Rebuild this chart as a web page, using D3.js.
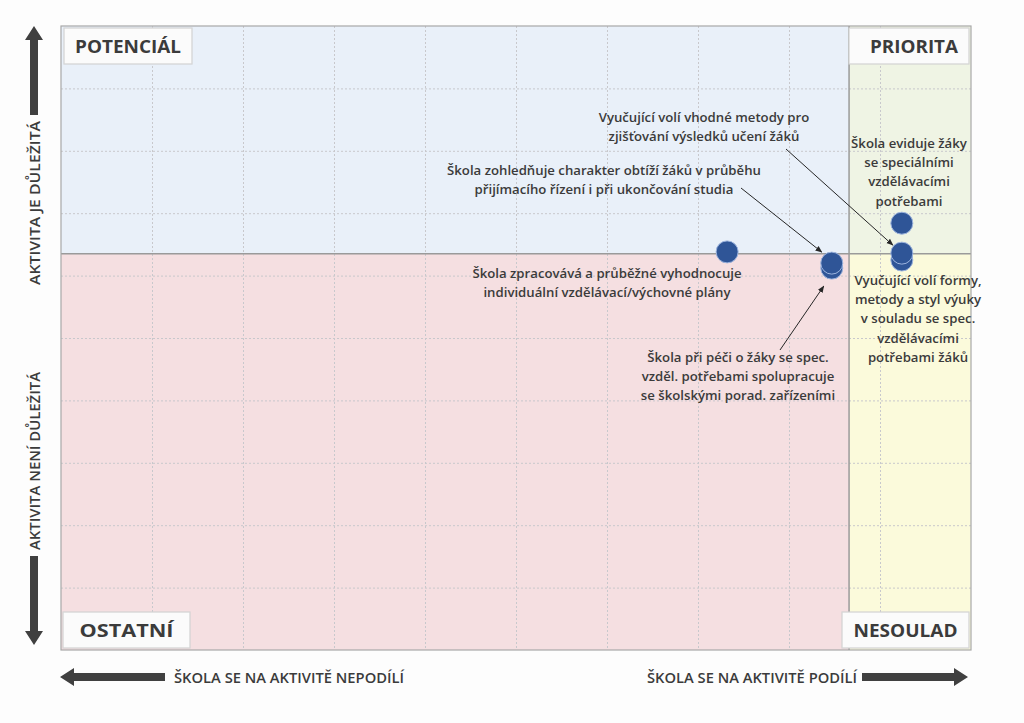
<!DOCTYPE html>
<html>
<head>
<meta charset="utf-8">
<script src="https://cdn.jsdelivr.net/npm/d3@7"></script>
<style>
  html, body { margin: 0; padding: 0; background: #fdfdfd; }
  svg { display: block; }
  text { font-family: "Open Sans", "DejaVu Sans", sans-serif; fill: #3b3b3b; }
</style>
</head>
<body>
<script>
// values (0-100 on both axes)
var activities = [
    "Škola zpracovává a průběžné vyhodnocuje individuální vzdělávací/výchovné plány",
    "Škola zohledňuje charakter obtíží žáků v průběhu přijímacího řízení i při ukončování studia",
    "Škola při péči o žáky se spec. vzděl. potřebami spolupracuje se školskými porad. zařízeními",
    "Škola eviduje žáky se speciálními vzdělávacími potřebami",
    "Vyučující volí vhodné metody pro zjišťování výsledků učení žáků",
    "Vyučující volí formy, metody a styl výuky v souladu se spec. vzdělávacími potřebami žáků"
];
var participation = [73.2, 84.7, 84.7, 92.4, 92.4, 92.4];
var importance = [63.8, 62.0, 61.2, 68.4, 63.6, 62.5];

var xSplit = 86.6;
var ySplit = 63.5;

var quadrantNames = ["POTENCIÁL", "PRIORITA", "OSTATNÍ", "NESOULAD"];
var axisTexts = ["AKTIVITA JE DŮLEŽITÁ", "AKTIVITA NENÍ DŮLEŽITÁ", "ŠKOLA SE NA AKTIVITĚ NEPODÍLÍ", "ŠKOLA SE NA AKTIVITĚ PODÍLÍ"];

var width = 1024;
var height = 723;
var plot = {left: 61, right: 971, top: 26, bottom: 650};

var svg = d3.select("body").append("svg")
    .attr("width", width)
    .attr("height", height);

var x = d3.scaleLinear().domain([0, 100]).range([plot.left, plot.right]);
var y = d3.scaleLinear().domain([0, 100]).range([plot.bottom, plot.top]);

// quadrant backgrounds
var quads = [
    {x0: 0, x1: xSplit, y0: ySplit, y1: 100, fill: "#e9f0f9"},
    {x0: xSplit, x1: 100, y0: ySplit, y1: 100, fill: "#eff4e4"},
    {x0: 0, x1: xSplit, y0: 0, y1: ySplit, fill: "#f5dfe1"},
    {x0: xSplit, x1: 100, y0: 0, y1: ySplit, fill: "#fbfadb"}
];
svg.selectAll("rect.quad").data(quads).enter().append("rect")
    .attr("class", "quad")
    .attr("x", function(d){ return x(d.x0); })
    .attr("y", function(d){ return y(d.y1); })
    .attr("width", function(d){ return x(d.x1) - x(d.x0); })
    .attr("height", function(d){ return y(d.y0) - y(d.y1); })
    .attr("fill", function(d){ return d.fill; });

// grid
var grid = svg.append("g");
grid.selectAll("line.v").data(x.ticks(10).slice(1, -1)).enter().append("line")
    .attr("x1", function(d){ return x(d) + 0.5; })
    .attr("x2", function(d){ return x(d) + 0.5; })
    .attr("y1", plot.top).attr("y2", plot.bottom)
    .attr("stroke", "#c8c8cc").attr("stroke-width", 1).attr("stroke-dasharray", "2,2");
grid.selectAll("line.h").data(y.ticks(10).slice(1, -1)).enter().append("line")
    .attr("y1", function(d){ return y(d) + 0.5; })
    .attr("y2", function(d){ return y(d) + 0.5; })
    .attr("x1", plot.left).attr("x2", plot.right)
    .attr("stroke", "#c8c8cc").attr("stroke-width", 1).attr("stroke-dasharray", "2,2");

// split lines
svg.append("line")
    .attr("x1", x(xSplit)).attr("x2", x(xSplit))
    .attr("y1", plot.top).attr("y2", plot.bottom)
    .attr("stroke", "#9a9a9a").attr("stroke-width", 1.5);
svg.append("line")
    .attr("x1", plot.left).attr("x2", plot.right)
    .attr("y1", y(ySplit)).attr("y2", y(ySplit))
    .attr("stroke", "#9a9a9a").attr("stroke-width", 1.5);

// frame
svg.append("rect")
    .attr("x", plot.left).attr("y", plot.top)
    .attr("width", plot.right - plot.left).attr("height", plot.bottom - plot.top)
    .attr("fill", "none").attr("stroke", "#a8a8a8").attr("stroke-width", 1.2);

// quadrant label boxes
var qBoxes = [
    {x: 64, y: 28, w: 128, h: 36},
    {x: 849, y: 28, w: 120, h: 36},
    {x: 63, y: 612, w: 127, h: 36},
    {x: 842, y: 612, w: 127, h: 36}
];
qBoxes.forEach(function(b, i){
    svg.append("rect")
        .attr("x", b.x).attr("y", b.y).attr("width", b.w).attr("height", b.h)
        .attr("fill", "#fbfbfb").attr("stroke", "#d3d3d3").attr("stroke-width", 1.2);
    svg.append("text")
        .attr("x", b.x + b.w / 2 + (i == 1 ? 5 : 0)).attr("y", b.y + 25)
        .attr("text-anchor", "middle")
        .attr("font-size", 18).attr("font-weight", 700)
        .attr("textLength", i == 0 ? 106 : (i == 1 ? 88 : (i == 2 ? 94 : 104)))
        .attr("lengthAdjust", "spacingAndGlyphs")
        .text(quadrantNames[i]);
});

// annotation arrows (from text to point)
svg.append("defs").append("marker")
    .attr("id", "head")
    .attr("viewBox", "0 0 10 10")
    .attr("refX", 9).attr("refY", 5)
    .attr("markerWidth", 7).attr("markerHeight", 7)
    .attr("orient", "auto")
    .append("path").attr("d", "M0,1 L10,5 L0,9 Z").attr("fill", "#262626");

var pointers = [
    {i: 4, from: [786, 149], off: [-9, -8]},
    {i: 1, from: [741, 188], off: [-10, -11]},
    {i: 2, from: [780, 350], off: [-8, 18]}
];
svg.selectAll("line.ptr").data(pointers).enter().append("line")
    .attr("x1", function(d){ return d.from[0]; })
    .attr("y1", function(d){ return d.from[1]; })
    .attr("x2", function(d){ return x(participation[d.i]) + d.off[0]; })
    .attr("y2", function(d){ return y(importance[d.i]) + d.off[1]; })
    .attr("stroke", "#262626").attr("stroke-width", 1)
    .attr("marker-end", "url(#head)");

// points - draw lower ones first so the upper circle of a pair sits on top
var order = d3.range(participation.length).sort(function(a, b){ return importance[a] - importance[b]; });
svg.selectAll("circle.pt").data(order).enter().append("circle")
    .attr("cx", function(i){ return x(participation[i]); })
    .attr("cy", function(i){ return y(importance[i]); })
    .attr("r", 11)
    .attr("fill", "#2f5597")
    .attr("stroke", "#9db4de").attr("stroke-width", 1);

// annotation texts
var notes = [
    {cx: 607, y: 278, lines: ["Škola zpracovává a průběžné vyhodnocuje", "individuální vzdělávací/výchovné plány"]},
    {cx: 604, y: 175, lines: ["Škola zohledňuje charakter obtíží žáků v průběhu", "přijímacího řízení i při ukončování studia"]},
    {cx: 738, y: 362, lines: ["Škola při péči o žáky se spec.", "vzděl. potřebami spolupracuje", "se školskými porad. zařízeními"]},
    {cx: 909, y: 148, lines: ["Škola eviduje žáky", "se speciálními", "vzdělávacími", "potřebami"]},
    {cx: 704, y: 122, lines: ["Vyučující volí vhodné metody pro", "zjišťování výsledků učení žáků"]},
    {cx: 918, y: 285, lines: ["Vyučující volí formy,", "metody a styl výuky", "v souladu se spec.", "vzdělávacími", "potřebami žáků"]}
];
notes.forEach(function(n){
    var t = svg.append("text")
        .attr("text-anchor", "middle")
        .attr("font-size", 13.2).attr("font-weight", 600);
    n.lines.forEach(function(l, k){
        t.append("tspan").attr("x", n.cx).attr("y", n.y + k * 19.2).text(l);
    });
});

// big arrows
function vArrow(xc, yTip, yEnd){
    var dir = yEnd > yTip ? 1 : -1;
    var hh = 14;
    return "M" + xc + "," + yTip +
        " L" + (xc + 9) + "," + (yTip + dir * hh) +
        " L" + (xc + 4) + "," + (yTip + dir * hh) +
        " L" + (xc + 4) + "," + yEnd +
        " L" + (xc - 4) + "," + yEnd +
        " L" + (xc - 4) + "," + (yTip + dir * hh) +
        " L" + (xc - 9) + "," + (yTip + dir * hh) + " Z";
}
function hArrow(yc, xTip, xEnd){
    var dir = xEnd > xTip ? 1 : -1;
    var hw = 14;
    return "M" + xTip + "," + yc +
        " L" + (xTip + dir * hw) + "," + (yc - 9) +
        " L" + (xTip + dir * hw) + "," + (yc - 4) +
        " L" + xEnd + "," + (yc - 4) +
        " L" + xEnd + "," + (yc + 4) +
        " L" + (xTip + dir * hw) + "," + (yc + 4) +
        " L" + (xTip + dir * hw) + "," + (yc + 9) + " Z";
}
var arrowPaths = [vArrow(34, 26, 115), vArrow(34, 645, 556), hArrow(677, 60, 165), hArrow(677, 968, 862)];
svg.selectAll("path.big").data(arrowPaths).enter().append("path")
    .attr("d", function(d){ return d; })
    .attr("fill", "#404040");

// axis captions
var axisPos = [
    {x: 40, y: 203, rot: -90, len: 164},
    {x: 40, y: 461, rot: -90, len: 178},
    {x: 174, y: 683, rot: 0, len: 230, anchor: "start"},
    {x: 857, y: 683, rot: 0, len: 210, anchor: "end"}
];
axisPos.forEach(function(p, i){
    var t = svg.append("text")
        .attr("font-size", 14.5).attr("font-weight", 600)
        .attr("textLength", p.len).attr("lengthAdjust", "spacingAndGlyphs")
        .text(axisTexts[i]);
    if(p.rot){
        t.attr("text-anchor", "middle")
            .attr("transform", "translate(" + p.x + "," + p.y + ") rotate(" + p.rot + ")");
    } else {
        t.attr("text-anchor", p.anchor).attr("x", p.x).attr("y", p.y);
    }
});
</script>
</body>
</html>
